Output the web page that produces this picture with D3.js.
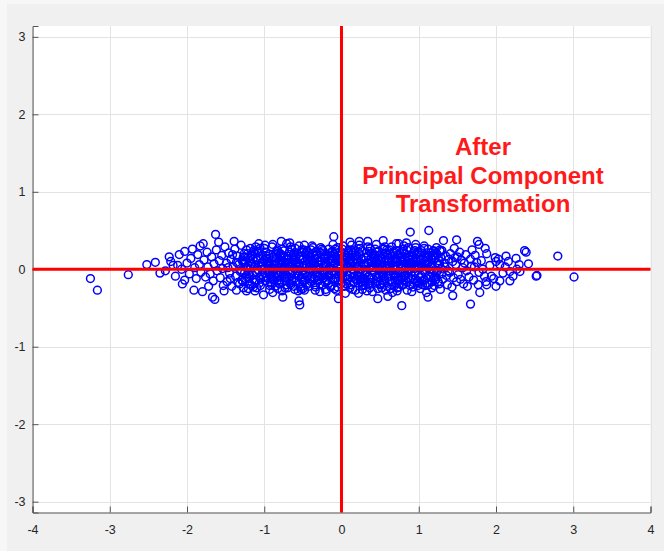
<!DOCTYPE html>
<html>
<head>
<meta charset="utf-8">
<script src="https://cdn.jsdelivr.net/npm/d3@7"></script>
<style>
    body { margin: 0; background: #f7f7f7; }
    #chart { width: 664px; height: 551px; }
</style>
</head>
<body>
<div id="chart"></div>
<script>
// Axis ticks
const xTicks = [-4, -3, -2, -1, 0, 1, 2, 3, 4];
const yTicks = [-3, -2, -1, 0, 1, 2, 3];
const xDomain = [-4, 4];
const yDomain = [-3.14, 3.14];

// Annotation text
const labelLines = ['After', 'Principal Component', 'Transformation'];

// Scores after the PCA rotation
const leftTail = [
    [-3.25, -0.12], [-3.16, -0.27], [-2.76, -0.07], [-2.52, 0.06], [-2.41, 0.09], [-2.35, -0.05],
    [-2.28, -0.02], [-2.23, 0.16], [-2.21, 0.10], [-2.18, 0.05], [-2.15, -0.09], [-2.12, 0.05],
    [-2.10, 0.19], [-2.07, 0.00], [-2.06, -0.19], [-2.03, 0.23], [-2.03, -0.14], [-1.93, 0.26],
    [-1.91, -0.27], [-1.83, 0.30], [-1.79, 0.33], [-1.80, -0.29], [-1.72, -0.22], [-1.67, -0.36],
    [-1.64, -0.39], [-1.63, 0.45], [-1.59, 0.35], [-1.53, -0.21], [-1.39, 0.36], [-1.36, -0.27],
    [-1.23, -0.28], [-1.12, -0.28], [-1.01, -0.33], [-0.89, 0.32], [-0.78, 0.36], [-0.76, -0.36],
    [-0.67, 0.34], [-0.55, -0.41], [-0.54, -0.46], [-0.10, 0.42], [-0.04, -0.38]
];

const leftFill = [
    [-2.00, 0.08], [-1.97, -0.06], [-1.95, 0.14], [-1.90, 0.02], [-1.88, -0.12], [-1.86, 0.19],
    [-1.84, 0.06], [-1.82, -0.04], [-1.78, 0.12], [-1.76, -0.10], [-1.74, 0.22], [-1.73, 0.03],
    [-1.70, -0.06], [-1.68, 0.16], [-1.66, -0.15], [-1.65, 0.07], [-1.62, 0.25], [-1.61, -0.02],
    [-1.58, 0.11], [-1.57, -0.11], [-1.55, 0.18], [-1.54, 0.01], [-1.52, -0.28], [-1.51, 0.29],
    [-1.49, 0.08], [-1.48, -0.16], [-1.47, 0.02], [-1.46, 0.21], [-1.45, -0.05], [-1.44, -0.12],
    [-1.43, 0.13], [-1.42, -0.22], [-1.41, 0.19], [-1.40, 0.03], [-1.38, 0.26], [-1.37, -0.09],
    [-1.36, 0.09], [-1.35, 0.17], [-1.34, -0.17], [-1.33, 0.06], [-1.32, -0.19], [-1.31, -0.03],
    [-1.30, 0.31], [-1.29, -0.14], [-1.28, 0.10], [-1.27, -0.24], [-1.27, 0.16], [-1.26, 0.20],
    [-1.25, 0.08], [-1.24, -0.12], [-1.23, 0.25], [-1.22, 0.02], [-1.21, 0.15], [-1.20, -0.06],
    [-1.19, -0.19], [-1.18, 0.27], [-1.18, 0.00], [-1.17, 0.17], [-1.16, 0.07], [-1.15, -0.07],
    [-1.14, -0.23], [-1.13, 0.22], [-1.12, 0.05], [-1.11, -0.14], [-1.11, 0.29], [-1.10, 0.12],
    [-1.09, 0.21], [-1.08, -0.01], [-1.07, 0.33], [-1.06, -0.11], [-1.05, -0.21], [-1.04, 0.04],
    [-1.03, 0.09], [-1.02, 0.18], [-1.01, -0.10]
];

const coreCenter = [
    [-0.99, 0.31], [-0.93, -0.26], [-0.97, 0.17], [-0.91, -0.09], [-0.95, 0.04], [-0.98, 0.22],
    [-0.92, -0.17], [-0.96, 0.10], [-0.94, -0.02], [-1.00, 0.27], [-0.93, -0.21], [-0.97, 0.13],
    [-0.91, -0.13], [-0.95, 0.07], [-0.99, -0.05], [-0.94, 0.00],
    [-0.89, -0.30], [-0.83, 0.25], [-0.87, -0.14], [-0.81, 0.08], [-0.85, 0.19], [-0.88, -0.06],
    [-0.82, 0.02], [-0.86, -0.22], [-0.84, 0.14], [-0.90, 0.29], [-0.83, -0.11], [-0.87, 0.05],
    [-0.81, -0.18], [-0.85, 0.11], [-0.89, -0.03], [-0.84, 0.23],
    [-0.79, 0.20], [-0.73, -0.24], [-0.77, 0.06], [-0.71, 0.33], [-0.75, -0.08], [-0.78, 0.15],
    [-0.72, -0.15], [-0.76, 0.01], [-0.74, 0.24], [-0.80, -0.19], [-0.73, 0.09], [-0.77, -0.28],
    [-0.71, 0.12], [-0.75, -0.01], [-0.79, 0.18], [-0.74, -0.11],
    [-0.66, 0.29], [-0.70, -0.24], [-0.62, 0.19], [-0.68, -0.10], [-0.64, 0.03], [-0.61, 0.21],
    [-0.67, -0.18], [-0.63, 0.12], [-0.69, -0.03], [-0.65, 0.26], [-0.62, -0.22], [-0.68, 0.14],
    [-0.64, -0.12], [-0.70, 0.06], [-0.66, -0.06], [-0.61, 0.01],
    [-0.56, -0.28], [-0.60, 0.27], [-0.52, -0.13], [-0.58, 0.09], [-0.54, 0.17], [-0.51, -0.07],
    [-0.57, 0.03], [-0.53, -0.23], [-0.59, 0.15], [-0.55, 0.30], [-0.52, -0.10], [-0.58, 0.04],
    [-0.54, -0.19], [-0.60, 0.12], [-0.56, -0.02], [-0.51, 0.22],
    [-0.46, 0.21], [-0.50, -0.25], [-0.42, 0.07], [-0.48, 0.31], [-0.44, -0.09], [-0.41, 0.16],
    [-0.47, -0.14], [-0.43, 0.00], [-0.49, 0.25], [-0.45, -0.20], [-0.42, 0.10], [-0.48, -0.27],
    [-0.44, 0.13], [-0.50, -0.02], [-0.46, 0.19], [-0.41, -0.12],
    [-0.38, 0.30], [-0.34, -0.27], [-0.40, 0.16], [-0.31, -0.08], [-0.36, 0.05], [-0.33, 0.23],
    [-0.39, -0.16], [-0.35, 0.09], [-0.32, -0.01], [-0.37, 0.28], [-0.34, -0.20], [-0.40, 0.12],
    [-0.31, -0.14], [-0.36, 0.08], [-0.33, -0.04], [-0.38, 0.01],
    [-0.28, -0.29], [-0.24, 0.24], [-0.30, -0.15], [-0.21, 0.07], [-0.26, 0.20], [-0.23, -0.05],
    [-0.29, 0.01], [-0.25, -0.21], [-0.22, 0.13], [-0.27, 0.28], [-0.24, -0.12], [-0.30, 0.06],
    [-0.21, -0.17], [-0.26, 0.10], [-0.23, -0.04], [-0.28, 0.22],
    [-0.18, 0.19], [-0.14, -0.23], [-0.20, 0.05], [-0.11, 0.32], [-0.16, -0.07], [-0.13, 0.14],
    [-0.19, -0.16], [-0.15, 0.02], [-0.12, 0.23], [-0.17, -0.18], [-0.14, 0.08], [-0.20, -0.29],
    [-0.11, 0.11], [-0.16, 0.00], [-0.13, 0.17], [-0.18, -0.10],
    [-0.05, 0.28], [-0.09, -0.25], [-0.02, 0.18], [-0.07, -0.11], [-0.04, 0.03], [-0.10, 0.20],
    [-0.01, -0.19], [-0.06, 0.11], [-0.03, -0.03], [-0.08, 0.26], [-0.05, -0.23], [-0.02, 0.14],
    [-0.09, -0.12], [-0.04, 0.06], [-0.07, -0.06], [-0.01, 0.02],
    [0.05, -0.31], [0.01, 0.26], [0.08, -0.13], [0.03, 0.09], [0.06, 0.18], [0.00, -0.07],
    [0.09, 0.03], [0.04, -0.22], [0.07, 0.15], [0.02, 0.30], [0.05, -0.10], [0.08, 0.04],
    [0.01, -0.17], [0.06, 0.12], [0.03, -0.02], [0.09, 0.24],
    [0.15, 0.21], [0.11, -0.24], [0.18, 0.07], [0.13, 0.31], [0.16, -0.09], [0.10, 0.16],
    [0.19, -0.14], [0.14, 0.00], [0.17, 0.25], [0.12, -0.20], [0.15, 0.10], [0.18, -0.27],
    [0.11, 0.13], [0.16, -0.01], [0.13, 0.19], [0.19, -0.12],
    [0.23, 0.31], [0.27, -0.26], [0.20, 0.17], [0.25, -0.09], [0.29, 0.04], [0.22, 0.22],
    [0.26, -0.17], [0.21, 0.10], [0.28, -0.02], [0.24, 0.27], [0.27, -0.21], [0.20, 0.13],
    [0.25, -0.13], [0.29, 0.07], [0.22, -0.05], [0.26, 0.00],
    [0.33, -0.28], [0.37, 0.27], [0.30, -0.15], [0.35, 0.07], [0.39, 0.20], [0.32, -0.05],
    [0.36, 0.01], [0.31, -0.21], [0.38, 0.13], [0.34, 0.29], [0.37, -0.12], [0.30, 0.06],
    [0.35, -0.19], [0.39, 0.10], [0.32, -0.04], [0.36, 0.23],
    [0.43, 0.19], [0.47, -0.25], [0.40, 0.05], [0.45, 0.32], [0.49, -0.07], [0.42, 0.14],
    [0.46, -0.16], [0.41, 0.02], [0.48, 0.23], [0.44, -0.18], [0.47, 0.08], [0.40, -0.29],
    [0.45, 0.11], [0.49, 0.00], [0.42, 0.17], [0.46, -0.10],
    [0.56, 0.29], [0.52, -0.24], [0.59, 0.18], [0.54, -0.10], [0.50, 0.03], [0.57, 0.21],
    [0.53, -0.18], [0.58, 0.11], [0.51, -0.03], [0.55, 0.26], [0.59, -0.22], [0.52, 0.14],
    [0.56, -0.12], [0.50, 0.06], [0.54, -0.06], [0.58, 0.01],
    [0.66, -0.30], [0.62, 0.25], [0.69, -0.14], [0.64, 0.08], [0.60, 0.19], [0.67, -0.06],
    [0.63, 0.02], [0.68, -0.22], [0.61, 0.14], [0.65, 0.29], [0.69, -0.11], [0.62, 0.05],
    [0.66, -0.18], [0.60, 0.11], [0.64, -0.03], [0.68, 0.23],
    [0.76, 0.20], [0.72, -0.24], [0.79, 0.06], [0.74, 0.33], [0.70, -0.08], [0.77, 0.15],
    [0.73, -0.15], [0.78, 0.01], [0.71, 0.24], [0.75, -0.19], [0.79, 0.09], [0.72, -0.28],
    [0.76, 0.12], [0.70, -0.01], [0.74, 0.18], [0.78, -0.11],
    [0.81, 0.30], [0.85, -0.27], [0.88, 0.16], [0.83, -0.08], [0.87, 0.05], [0.80, 0.23],
    [0.84, -0.16], [0.89, 0.09], [0.82, -0.01], [0.86, 0.28], [0.80, -0.20], [0.88, 0.12],
    [0.83, -0.14], [0.87, 0.08], [0.85, -0.04], [0.89, 0.01],
    [0.91, -0.29], [0.95, 0.24], [0.98, -0.15], [0.93, 0.07], [0.97, 0.20], [0.90, -0.05],
    [0.94, 0.01], [0.99, -0.21], [0.92, 0.13], [0.96, 0.28], [0.90, -0.12], [0.98, 0.06],
    [0.93, -0.17], [0.97, 0.10], [0.95, -0.04], [0.99, 0.22]
];

// Second pass through the dense middle of the cloud
const coreExtra = [
    [-1.285, 0.12], [-1.255, -0.05], [-1.215, 0.20], [-1.275, -0.16], [-1.235, 0.03],
    [-1.205, -0.25], [-1.265, 0.09], [-1.225, -0.10], [-1.245, 0.16], [-1.295, -0.01],
    [-1.185, -0.08], [-1.145, 0.13], [-1.115, -0.17], [-1.175, 0.04], [-1.135, 0.24],
    [-1.105, -0.03], [-1.165, -0.21], [-1.125, 0.10], [-1.155, 0.19], [-1.195, -0.12],
    [-1.085, 0.15], [-1.045, -0.13], [-1.015, 0.06], [-1.075, 0.23], [-1.035, -0.07],
    [-1.005, 0.11], [-1.065, -0.18], [-1.025, 0.00], [-1.055, 0.27], [-1.095, -0.24],
    [-0.985, -0.15], [-0.945, 0.19], [-0.915, 0.02], [-0.975, -0.11], [-0.935, 0.09],
    [-0.905, -0.20], [-0.965, 0.14], [-0.925, -0.06], [-0.955, 0.05], [-0.995, 0.11],
    [-0.885, 0.16], [-0.845, -0.07], [-0.815, 0.21], [-0.875, -0.01], [-0.835, -0.15],
    [-0.805, 0.12], [-0.865, 0.07], [-0.825, -0.25], [-0.855, 0.01], [-0.895, -0.12],
    [-0.785, -0.04], [-0.745, 0.17], [-0.715, -0.20], [-0.775, 0.11], [-0.735, 0.02],
    [-0.705, -0.12], [-0.765, 0.26], [-0.725, -0.06], [-0.755, 0.08], [-0.795, -0.14],
    [-0.685, 0.09], [-0.645, -0.15], [-0.615, 0.15], [-0.675, 0.22], [-0.635, -0.04],
    [-0.605, -0.26], [-0.665, 0.04], [-0.625, 0.07], [-0.655, -0.20], [-0.695, 0.17],
    [-0.585, -0.16], [-0.545, 0.06], [-0.515, 0.25], [-0.575, -0.05], [-0.535, 0.13],
    [-0.505, 0.02], [-0.565, 0.20], [-0.525, -0.26], [-0.555, -0.09], [-0.595, 0.08],
    [-0.485, 0.04], [-0.445, 0.24], [-0.415, -0.18], [-0.475, -0.07], [-0.435, 0.18],
    [-0.405, -0.04], [-0.465, 0.11], [-0.425, -0.22], [-0.455, 0.06], [-0.495, -0.15],
    [-0.385, -0.10], [-0.345, 0.14], [-0.315, 0.03], [-0.375, 0.20], [-0.335, -0.23],
    [-0.305, 0.10], [-0.365, -0.03], [-0.325, 0.18], [-0.355, -0.12], [-0.395, 0.25],
    [-0.285, 0.11], [-0.245, -0.08], [-0.215, 0.17], [-0.275, -0.19], [-0.235, 0.04],
    [-0.205, -0.26], [-0.265, 0.15], [-0.225, -0.01], [-0.255, 0.26], [-0.295, -0.09],
    [-0.185, -0.03], [-0.145, 0.21], [-0.115, -0.13], [-0.175, 0.09], [-0.135, -0.21],
    [-0.105, 0.05], [-0.165, 0.26], [-0.125, -0.07], [-0.155, 0.12], [-0.195, -0.14],
    [-0.085, 0.08], [-0.045, -0.15], [-0.015, 0.23], [-0.075, 0.16], [-0.035, -0.08],
    [-0.005, 0.10], [-0.065, -0.27], [-0.025, 0.00], [-0.055, 0.21], [-0.095, -0.03],
    [0.015, -0.12], [0.055, 0.07], [0.085, 0.20], [0.025, -0.04], [0.065, -0.19],
    [0.095, 0.11], [0.035, 0.16], [0.075, -0.08], [0.045, 0.01], [0.005, 0.21],
    [0.115, 0.04], [0.155, -0.17], [0.185, 0.14], [0.125, 0.24], [0.165, -0.05],
    [0.195, 0.02], [0.135, -0.11], [0.175, 0.18], [0.145, -0.26], [0.105, 0.08],
    [0.215, -0.09], [0.255, 0.13], [0.285, -0.20], [0.225, 0.05], [0.265, 0.24],
    [0.295, -0.12], [0.235, 0.19], [0.275, -0.03], [0.245, -0.16], [0.205, 0.02],
    [0.315, 0.15], [0.355, -0.10], [0.385, 0.04], [0.325, 0.21], [0.365, -0.24],
    [0.395, -0.01], [0.335, 0.09], [0.375, -0.17], [0.345, 0.17], [0.305, -0.07],
    [0.415, -0.13], [0.455, 0.22], [0.485, 0.12], [0.425, -0.03], [0.465, 0.03],
    [0.495, -0.20], [0.435, 0.26], [0.475, -0.11], [0.445, 0.07], [0.405, 0.18],
    [0.515, 0.10], [0.555, -0.15], [0.585, 0.25], [0.525, -0.08], [0.565, 0.15],
    [0.595, 0.04], [0.535, 0.20], [0.575, -0.27], [0.545, -0.01], [0.505, -0.19],
    [0.615, -0.02], [0.655, 0.17], [0.685, -0.08], [0.625, -0.16], [0.665, 0.03],
    [0.695, 0.13], [0.635, -0.25], [0.675, 0.21], [0.645, 0.10], [0.605, -0.09],
    [0.715, 0.13], [0.755, -0.05], [0.785, -0.20], [0.725, 0.19], [0.765, 0.07],
    [0.795, 0.26], [0.735, -0.10], [0.775, 0.04], [0.745, -0.23], [0.705, 0.10],
    [0.815, -0.09], [0.855, 0.14], [0.885, -0.21], [0.825, 0.20], [0.865, -0.11],
    [0.895, 0.18], [0.835, 0.04], [0.875, -0.02], [0.845, 0.25], [0.805, -0.14],
    [0.915, 0.17], [0.955, -0.12], [0.985, 0.03], [0.925, -0.23], [0.965, 0.14],
    [0.995, -0.08], [0.935, 0.21], [0.975, -0.18], [0.945, 0.09], [0.905, 0.04],
    [1.015, -0.11], [1.055, 0.12], [1.085, -0.21], [1.025, 0.18], [1.065, -0.01],
    [1.095, 0.07], [1.035, 0.24], [1.075, -0.14], [1.045, 0.03], [1.005, -0.18],
    [1.115, 0.07], [1.155, -0.10], [1.185, 0.23], [1.125, -0.20], [1.165, 0.13],
    [1.195, -0.02], [1.135, 0.18], [1.175, -0.16], [1.145, -0.03], [1.105, 0.11],
    [1.215, -0.14], [1.255, 0.05], [1.285, 0.15], [1.225, 0.21], [1.265, -0.19],
    [1.295, -0.06], [1.235, 0.08], [1.275, 0.25], [1.245, -0.02], [1.205, 0.18]
];

const coreRight = [
    [1.01, 0.22], [1.05, -0.20], [1.08, 0.10], [1.03, -0.08], [1.07, 0.27], [1.00, 0.02],
    [1.04, -0.15], [1.09, 0.16], [1.02, -0.25], [1.06, 0.06], [1.08, -0.03], [1.03, 0.13],
    [1.11, -0.18], [1.15, 0.21], [1.18, -0.06], [1.13, 0.09], [1.17, -0.24], [1.10, 0.15],
    [1.14, 0.00], [1.19, -0.12], [1.12, 0.26], [1.16, 0.04], [1.18, 0.18], [1.13, -0.09],
    [1.21, 0.14], [1.25, -0.16], [1.28, 0.23], [1.23, -0.04], [1.27, 0.07], [1.20, -0.21],
    [1.24, 0.19], [1.29, 0.01], [1.22, -0.10], [1.26, 0.11], [1.28, -0.26], [1.23, 0.28],
    [1.31, -0.13], [1.35, 0.17], [1.38, -0.02], [1.33, 0.08], [1.37, -0.20], [1.30, 0.24],
    [1.34, 0.03], [1.39, 0.13], [1.36, -0.08],
    [1.41, 0.20], [1.45, -0.11], [1.48, 0.06], [1.43, -0.23], [1.47, 0.15], [1.40, -0.04],
    [1.44, 0.10], [1.49, -0.16], [1.46, 0.27],
    [1.51, -0.07], [1.55, 0.12], [1.58, -0.19], [1.53, 0.22], [1.57, 0.02], [1.50, 0.16],
    [1.54, -0.13], [1.59, 0.08],
    [1.61, 0.19], [1.65, -0.10], [1.68, 0.04], [1.63, -0.22], [1.67, 0.13], [1.62, -0.02],
    [1.69, 0.25],
    [1.71, -0.14], [1.75, 0.09], [1.78, -0.04], [1.73, 0.18], [1.77, -0.20], [1.72, 0.03],
    [1.81, 0.11], [1.85, -0.09], [1.88, 0.20], [1.83, 0.00], [1.87, -0.16],
    [1.92, 0.05], [1.97, -0.12], [2.03, 0.13], [2.09, -0.05], [2.12, 0.03], [2.16, 0.10],
    [2.22, -0.09], [2.26, 0.14]
];

const rightTail = [
    [0.11, 0.35], [0.23, 0.36], [0.34, 0.36], [0.54, 0.37], [0.71, 0.33], [0.84, 0.34],
    [0.96, 0.32], [1.07, 0.30], [1.19, 0.24], [0.22, -0.31], [0.47, -0.38], [0.60, -0.35],
    [0.78, -0.47], [0.89, 0.48], [1.13, 0.50], [1.10, -0.30], [1.12, -0.36], [1.32, 0.37],
    [1.44, -0.34], [1.49, 0.38], [1.67, -0.45], [1.76, 0.36], [1.78, 0.32], [1.79, -0.30],
    [1.86, 0.27], [1.88, -0.20], [1.94, -0.09], [1.99, 0.15], [2.00, 0.10], [2.00, -0.22],
    [2.05, 0.06], [2.05, -0.15], [2.13, 0.17], [2.18, -0.03], [2.18, -0.15], [2.27, 0.00],
    [2.30, 0.06], [2.31, -0.03], [2.37, 0.24], [2.39, 0.22], [2.42, 0.07], [2.52, -0.09],
    [2.53, -0.08], [2.80, 0.17], [3.01, -0.10]
];

function createScatterPlot() {
    const width = 664;
    const height = 551;
    const plot = { left: 32.5, right: 650.5, top: 26, bottom: 512.5 };

    const svg = d3.select('#chart')
        .append('svg')
        .attr('width', width)
        .attr('height', height)
        .style('display', 'block');

    // Figure background
    svg.append('rect').attr('x', 7).attr('y', 4).attr('width', width - 7).attr('height', height - 4)
        .attr('fill', '#f0f0f0');
    svg.append('rect').attr('x', plot.left).attr('y', plot.top)
        .attr('width', plot.right - plot.left).attr('height', plot.bottom - plot.top)
        .attr('fill', '#ffffff');

    const x = d3.scaleLinear().domain(xDomain).range([plot.left, plot.right]);
    const y = d3.scaleLinear().domain(yDomain).range([plot.bottom, plot.top]);

    // Gridlines
    svg.append('g').attr('class', 'grid')
        .selectAll('line').data(xTicks).join('line')
        .attr('x1', d => Math.round(x(d)) + 0.5).attr('x2', d => Math.round(x(d)) + 0.5)
        .attr('y1', plot.top).attr('y2', plot.bottom)
        .attr('stroke', '#e3e3e3');
    svg.append('g').attr('class', 'grid')
        .selectAll('line').data(yTicks).join('line')
        .attr('x1', plot.left).attr('x2', plot.right)
        .attr('y1', d => Math.round(y(d)) + 0.5).attr('y2', d => Math.round(y(d)) + 0.5)
        .attr('stroke', '#e3e3e3');

    // Axes with inward ticks
    const xAxis = svg.append('g')
        .attr('transform', `translate(0,${plot.bottom})`)
        .call(d3.axisBottom(x).tickValues(xTicks).tickSize(-6).tickPadding(13));
    const yAxis = svg.append('g')
        .attr('transform', `translate(${plot.left},0)`)
        .call(d3.axisLeft(y).tickValues(yTicks).tickSize(-6).tickPadding(7));

    [xAxis, yAxis].forEach(g => {
        g.select('.domain').attr('stroke', '#555');
        g.selectAll('.tick line').attr('stroke', '#555');
        g.selectAll('.tick text')
            .attr('fill', '#262626')
            .style('font-family', 'Liberation Sans, Arial, sans-serif')
            .style('font-size', '12.5px')
            .text(d => d < 0 ? '-' + Math.abs(d) : d);
    });

    // Scatter markers
    const points = [].concat(leftTail, leftFill, coreCenter, coreExtra, coreRight, rightTail);
    svg.append('g').attr('class', 'markers')
        .selectAll('circle').data(points).join('circle')
        .attr('cx', d => x(d[0]))
        .attr('cy', d => y(d[1]))
        .attr('r', 3.9)
        .attr('fill', 'none')
        .attr('stroke', '#0000ff')
        .attr('stroke-width', 1.5);

    // Red principal axes
    svg.append('line')
        .attr('x1', x(xDomain[0])).attr('x2', x(xDomain[1]))
        .attr('y1', y(0)).attr('y2', y(0))
        .attr('stroke', '#ff0000').attr('stroke-width', 3);
    svg.append('line')
        .attr('x1', x(0)).attr('x2', x(0))
        .attr('y1', y(yDomain[0])).attr('y2', y(yDomain[1]))
        .attr('stroke', '#ff0000').attr('stroke-width', 3);

    // Annotation
    svg.append('text')
        .attr('x', 483)
        .attr('y', 155)
        .attr('text-anchor', 'middle')
        .attr('fill', '#ff1a1a')
        .style('font-family', 'Liberation Sans, Arial, sans-serif')
        .style('font-weight', 'bold')
        .style('font-size', '24px')
        .selectAll('tspan').data(labelLines).join('tspan')
        .attr('x', 483)
        .attr('dy', (d, i) => i === 0 ? 0 : 28.5)
        .text(d => d);
}

document.addEventListener('DOMContentLoaded', () => {
    createScatterPlot();
});
</script>
</body>
</html>
